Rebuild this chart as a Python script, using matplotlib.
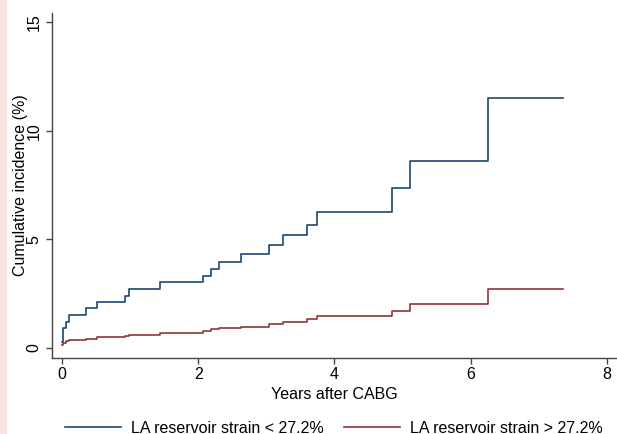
import matplotlib
matplotlib.use("Agg")
import matplotlib.pyplot as plt
from matplotlib.patches import Rectangle

plt.rcParams["font.family"] = ["Liberation Sans", "DejaVu Sans"]

# step times (years) shared by both curves
times = [0.0, 0.01, 0.06, 0.1, 0.35, 0.51, 0.93, 0.98, 1.44, 2.07, 2.19,
         2.30, 2.63, 3.04, 3.25, 3.60, 3.74, 4.85, 5.11, 6.25, 7.35]
low_strain = [0.29, 0.9, 1.21, 1.52, 1.83, 2.13, 2.41, 2.72, 3.03, 3.32, 3.64,
              3.95, 4.31, 4.75, 5.18, 5.68, 6.27, 7.36, 8.59, 11.53, 11.53]
high_strain = [0.11, 0.22, 0.30, 0.34, 0.41, 0.49, 0.55, 0.61, 0.69, 0.77, 0.85,
               0.91, 0.98, 1.11, 1.20, 1.32, 1.46, 1.71, 2.0, 2.70, 2.70]

labels = ["LA reservoir strain < 27.2%", "LA reservoir strain > 27.2%"]
colors = ["#1a476f", "#90353b"]

fig = plt.figure(figsize=(6.17, 4.34), dpi=100)
fig.patches.append(Rectangle((0, 0), 0.01, 1, transform=fig.transFigure,
                             color="#f6e5e1", zorder=0))
ax = fig.add_axes([0.0838, 0.176, 0.915, 0.795])

ax.plot(times, low_strain, drawstyle="steps-post", color=colors[0], lw=1.2, label=labels[0])
ax.plot(times, high_strain, drawstyle="steps-post", color=colors[1], lw=1.2, label=labels[1])

ax.set_xlim(-0.149, 8.135)
ax.set_ylim(-0.45, 15.45)
ax.set_xticks([0, 2, 4, 6, 8])
ax.set_yticks([0, 5, 10, 15])
ax.spines["top"].set_visible(False)
ax.spines["right"].set_visible(False)
for s in ["left", "bottom"]:
    ax.spines[s].set_color("#444444")
    ax.spines[s].set_linewidth(1.0)
ax.tick_params(direction="out", length=4.1, width=1, color="#444444", labelsize=11.5, pad=3)
for t in ax.get_yticklabels():
    t.set_rotation(90)
    t.set_va("center")
ax.set_xlabel("Years after CABG", fontsize=11.5, labelpad=3.5)
ax.set_ylabel("Cumulative incidence (%)", fontsize=11.5, labelpad=-0.5)

ax.legend(loc="center", bbox_to_anchor=(0.5, -0.204), ncol=2, frameon=False,
          fontsize=11.5, handlelength=3.5, handletextpad=0.63, columnspacing=1.24,
          borderaxespad=0, borderpad=0)

fig.savefig("out.png", dpi=100)
